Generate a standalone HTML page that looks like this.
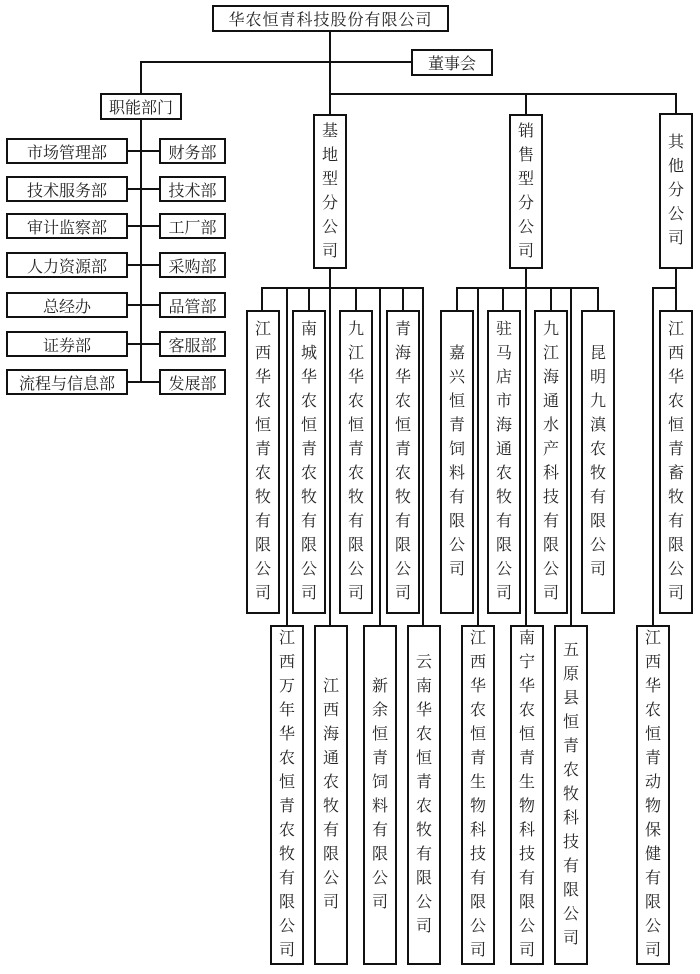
<!DOCTYPE html>
<html><head><meta charset="utf-8"><style>
body{margin:0;background:#fff;width:700px;height:974px;position:relative;overflow:hidden;font-family:"Liberation Serif","Noto Serif CJK SC",serif;color:#222}
.b{position:absolute;border:2px solid #111;box-sizing:border-box;display:flex;align-items:center;justify-content:center;font-size:16px;background:#fff}
.v{flex-direction:column;line-height:24px;width:34px;text-align:center}
.h{position:absolute;height:2px;background:#111}
.l{position:absolute;width:2px;background:#111}
</style></head><body>
<div class="l" style="left:329px;top:31px;height:83px"></div>
<div class="h" style="left:140px;top:61px;width:272px"></div>
<div class="l" style="left:140px;top:61px;height:33px"></div>
<div class="h" style="left:329px;top:93px;width:348px"></div>
<div class="l" style="left:525px;top:93px;height:21px"></div>
<div class="l" style="left:675px;top:93px;height:21px"></div>
<div class="l" style="left:140px;top:119px;height:264px"></div>
<div class="h" style="left:127px;top:150px;width:32px"></div>
<div class="h" style="left:127px;top:188px;width:32px"></div>
<div class="h" style="left:127px;top:225px;width:32px"></div>
<div class="h" style="left:127px;top:264px;width:32px"></div>
<div class="h" style="left:127px;top:304px;width:32px"></div>
<div class="h" style="left:127px;top:343px;width:32px"></div>
<div class="h" style="left:127px;top:381px;width:32px"></div>
<div class="l" style="left:329px;top:268px;height:20px"></div>
<div class="h" style="left:261px;top:287px;width:163px"></div>
<div class="l" style="left:261px;top:287px;height:23px"></div>
<div class="l" style="left:308px;top:287px;height:23px"></div>
<div class="l" style="left:355px;top:287px;height:23px"></div>
<div class="l" style="left:402px;top:287px;height:23px"></div>
<div class="l" style="left:286px;top:287px;height:338px"></div>
<div class="l" style="left:329px;top:287px;height:338px"></div>
<div class="l" style="left:379px;top:287px;height:338px"></div>
<div class="l" style="left:422px;top:287px;height:338px"></div>
<div class="l" style="left:525px;top:268px;height:20px"></div>
<div class="h" style="left:456px;top:287px;width:143px"></div>
<div class="l" style="left:456px;top:287px;height:23px"></div>
<div class="l" style="left:502px;top:287px;height:23px"></div>
<div class="l" style="left:550px;top:287px;height:23px"></div>
<div class="l" style="left:597px;top:287px;height:23px"></div>
<div class="l" style="left:477px;top:287px;height:338px"></div>
<div class="l" style="left:525px;top:287px;height:338px"></div>
<div class="l" style="left:570px;top:287px;height:338px"></div>
<div class="l" style="left:675px;top:268px;height:42px"></div>
<div class="h" style="left:652px;top:287px;width:25px"></div>
<div class="l" style="left:652px;top:287px;height:338px"></div>
<div class="b" style="left:212px;top:5px;width:237px;height:27px;letter-spacing:1px">华农恒青科技股份有限公司</div>
<div class="b" style="left:411px;top:49px;width:82px;height:27px">董事会</div>
<div class="b" style="left:100px;top:93px;width:82px;height:27px">职能部门</div>
<div class="b v" style="left:313px;top:114px;height:155px">基<br>地<br>型<br>分<br>公<br>司</div>
<div class="b v" style="left:509px;top:114px;height:155px">销<br>售<br>型<br>分<br>公<br>司</div>
<div class="b v" style="left:659px;top:113px;height:156px">其<br>他<br>分<br>公<br>司</div>
<div class="b" style="left:6px;top:138px;width:122px;height:26px">市场管理部</div>
<div class="b" style="left:6px;top:176px;width:122px;height:26px">技术服务部</div>
<div class="b" style="left:6px;top:213px;width:122px;height:26px">审计监察部</div>
<div class="b" style="left:6px;top:252px;width:122px;height:26px">人力资源部</div>
<div class="b" style="left:6px;top:292px;width:122px;height:26px">总经办</div>
<div class="b" style="left:6px;top:331px;width:122px;height:26px">证券部</div>
<div class="b" style="left:6px;top:369px;width:122px;height:26px">流程与信息部</div>
<div class="b" style="left:159px;top:138px;width:67px;height:26px">财务部</div>
<div class="b" style="left:159px;top:176px;width:67px;height:26px">技术部</div>
<div class="b" style="left:159px;top:213px;width:67px;height:26px">工厂部</div>
<div class="b" style="left:159px;top:252px;width:67px;height:26px">采购部</div>
<div class="b" style="left:159px;top:292px;width:67px;height:26px">品管部</div>
<div class="b" style="left:159px;top:331px;width:67px;height:26px">客服部</div>
<div class="b" style="left:159px;top:369px;width:67px;height:26px">发展部</div>
<div class="b v" style="left:246px;top:310px;height:304px">江<br>西<br>华<br>农<br>恒<br>青<br>农<br>牧<br>有<br>限<br>公<br>司</div>
<div class="b v" style="left:292px;top:310px;height:304px">南<br>城<br>华<br>农<br>恒<br>青<br>农<br>牧<br>有<br>限<br>公<br>司</div>
<div class="b v" style="left:339px;top:310px;height:304px">九<br>江<br>华<br>农<br>恒<br>青<br>农<br>牧<br>有<br>限<br>公<br>司</div>
<div class="b v" style="left:386px;top:310px;height:304px">青<br>海<br>华<br>农<br>恒<br>青<br>农<br>牧<br>有<br>限<br>公<br>司</div>
<div class="b v" style="left:440px;top:310px;height:304px">嘉<br>兴<br>恒<br>青<br>饲<br>料<br>有<br>限<br>公<br>司</div>
<div class="b v" style="left:487px;top:310px;height:304px">驻<br>马<br>店<br>市<br>海<br>通<br>农<br>牧<br>有<br>限<br>公<br>司</div>
<div class="b v" style="left:534px;top:310px;height:304px">九<br>江<br>海<br>通<br>水<br>产<br>科<br>技<br>有<br>限<br>公<br>司</div>
<div class="b v" style="left:581px;top:310px;height:304px">昆<br>明<br>九<br>滇<br>农<br>牧<br>有<br>限<br>公<br>司</div>
<div class="b v" style="left:659px;top:310px;height:304px">江<br>西<br>华<br>农<br>恒<br>青<br>畜<br>牧<br>有<br>限<br>公<br>司</div>
<div class="b v" style="left:270px;top:625px;height:340px">江<br>西<br>万<br>年<br>华<br>农<br>恒<br>青<br>农<br>牧<br>有<br>限<br>公<br>司</div>
<div class="b v" style="left:314px;top:625px;height:340px">江<br>西<br>海<br>通<br>农<br>牧<br>有<br>限<br>公<br>司</div>
<div class="b v" style="left:363px;top:625px;height:340px">新<br>余<br>恒<br>青<br>饲<br>料<br>有<br>限<br>公<br>司</div>
<div class="b v" style="left:407px;top:625px;height:340px">云<br>南<br>华<br>农<br>恒<br>青<br>农<br>牧<br>有<br>限<br>公<br>司</div>
<div class="b v" style="left:461px;top:625px;height:340px">江<br>西<br>华<br>农<br>恒<br>青<br>生<br>物<br>科<br>技<br>有<br>限<br>公<br>司</div>
<div class="b v" style="left:510px;top:625px;height:340px">南<br>宁<br>华<br>农<br>恒<br>青<br>生<br>物<br>科<br>技<br>有<br>限<br>公<br>司</div>
<div class="b v" style="left:554px;top:625px;height:340px">五<br>原<br>县<br>恒<br>青<br>农<br>牧<br>科<br>技<br>有<br>限<br>公<br>司</div>
<div class="b v" style="left:636px;top:625px;height:340px">江<br>西<br>华<br>农<br>恒<br>青<br>动<br>物<br>保<br>健<br>有<br>限<br>公<br>司</div>
</body></html>
